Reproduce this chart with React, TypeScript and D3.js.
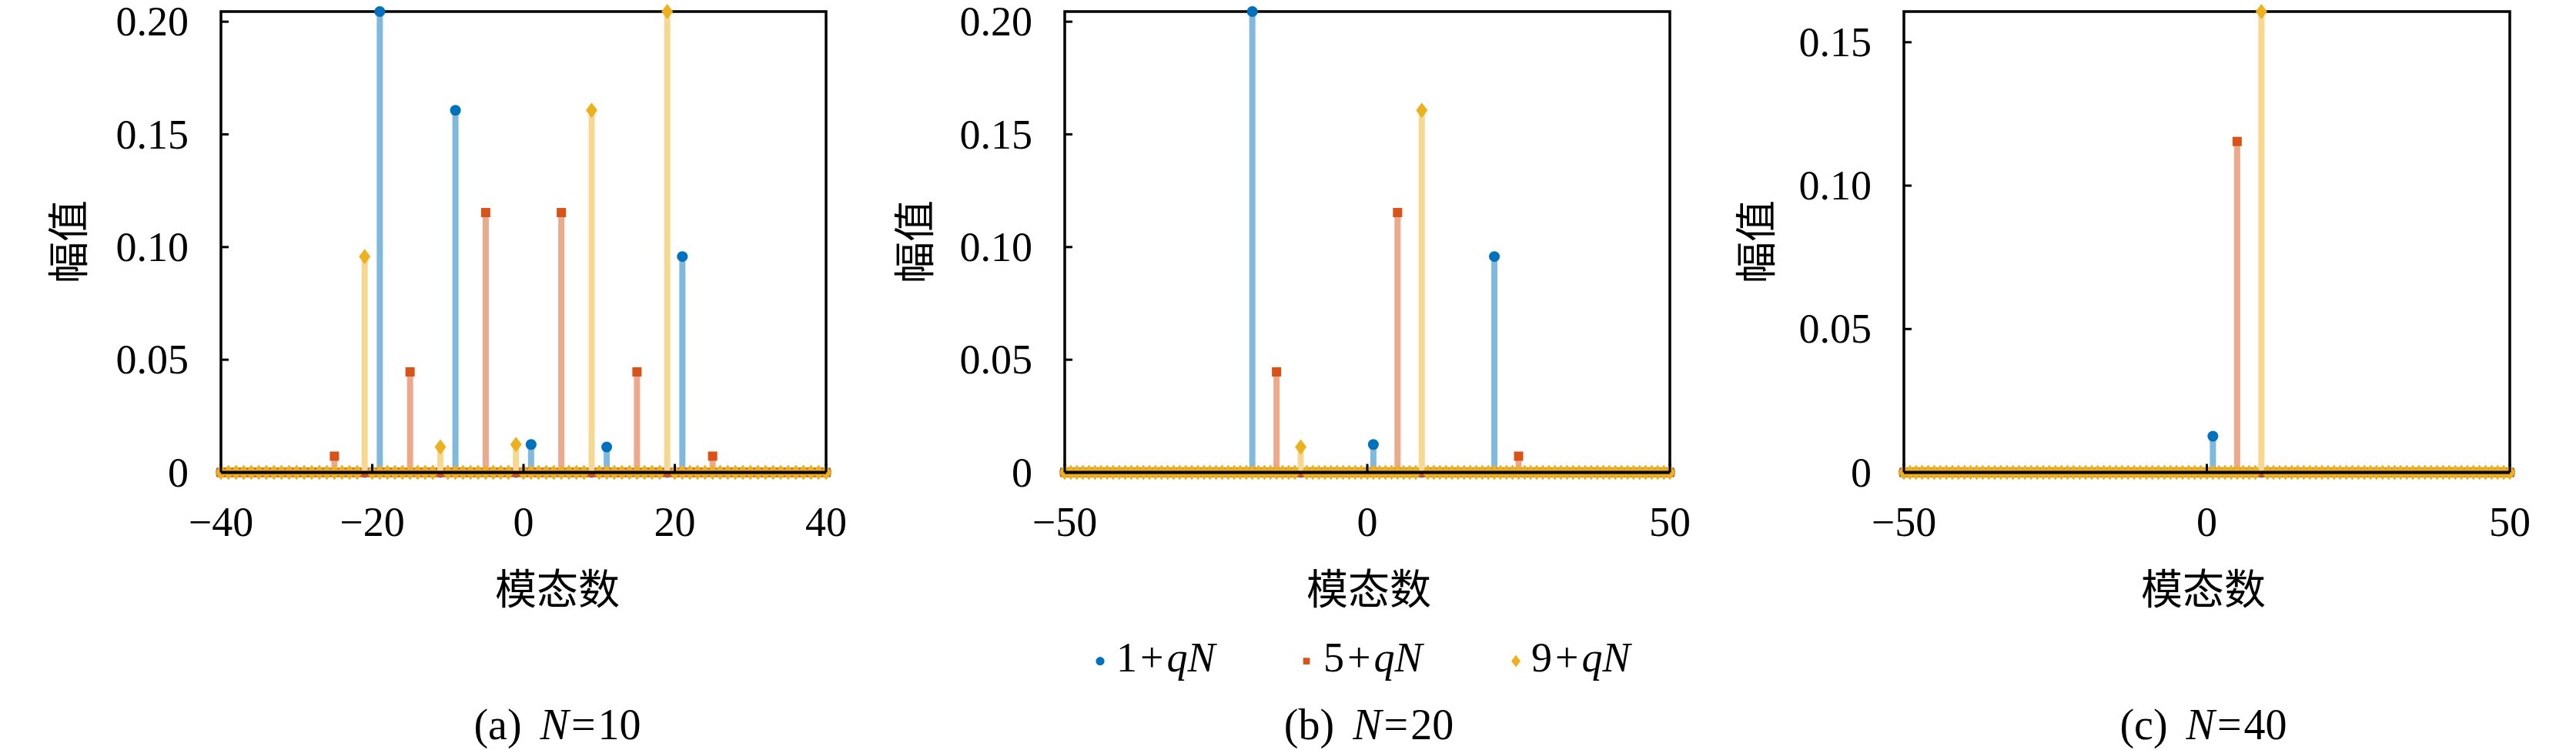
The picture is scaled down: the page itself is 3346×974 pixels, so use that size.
import React from 'react';
import * as d3 from 'd3';

const FONT = "'Liberation Serif', 'Times New Roman', serif";
const CJK = "'Noto Sans CJK SC', 'Noto Sans CJK JP', sans-serif";

// ---------- data ----------
const seriesOffsets = ['1', '5', '9'];
const seriesColors = ['#0072BD', '#D95319', '#EDB120'];
const seriesShapes = ['circle', 'square', 'diamond'];

const panelLetters = ['a', 'b', 'c'];
const panelN = ['10', '20', '40'];

const xDomainA = [-40, 40];
const xDomainB = [-50, 50];
const xDomainC = [-50, 50];
const xTicksA = [-40, -20, 0, 20, 40];
const xTicksB = [-50, 0, 50];
const xTicksC = [-50, 0, 50];
const yTicksA = [0, 0.05, 0.1, 0.15, 0.2];
const yTicksB = [0, 0.05, 0.1, 0.15, 0.2];
const yTicksC = [0, 0.05, 0.1, 0.15];

// N = 10
const modesA1 = [-19, -9, 1, 11, 21];
const valuesA1 = [0.2045, 0.1607, 0.0124, 0.0113, 0.0958];
const modesA2 = [-25, -15, -5, 5, 15, 25];
const valuesA2 = [0.0072, 0.0446, 0.1153, 0.1153, 0.0446, 0.0072];
const modesA3 = [-21, -11, -1, 9, 19];
const valuesA3 = [0.0958, 0.0113, 0.0124, 0.1607, 0.2045];

// N = 20
const modesB1 = [-19, 1, 21];
const valuesB1 = [0.2045, 0.0124, 0.0958];
const modesB2 = [-15, 5, 25];
const valuesB2 = [0.0446, 0.1153, 0.0072];
const modesB3 = [-11, 9];
const valuesB3 = [0.0113, 0.1607];

// N = 40
const modesC1 = [1];
const valuesC1 = [0.0126];
const modesC2 = [5];
const valuesC2 = [0.1154];
const modesC3 = [9];
const valuesC3 = [0.1607];

const xLabel = '模态数';
const yLabel = '幅值';

// ---------- layout ----------
const W = 3346;
const H = 974;
const layouts = [
  { left: 287, right: 1073, top: 15, bottom: 613.5, ylabelX: 85.5, xlabelX: 724 },
  { left: 1383, right: 2169, top: 15, bottom: 613.5, ylabelX: 1184, xlabelX: 1778 },
  { left: 2473, right: 3260, top: 15, bottom: 613.5, ylabelX: 2277, xlabelX: 2862 },
];

type Series = { modes: number[]; values: number[] };

const panels = [
  {
    xDomain: xDomainA, xTicks: xTicksA, yTicks: yTicksA,
    series: [
      { modes: modesA1, values: valuesA1 },
      { modes: modesA2, values: valuesA2 },
      { modes: modesA3, values: valuesA3 },
    ] as Series[],
  },
  {
    xDomain: xDomainB, xTicks: xTicksB, yTicks: yTicksB,
    series: [
      { modes: modesB1, values: valuesB1 },
      { modes: modesB2, values: valuesB2 },
      { modes: modesB3, values: valuesB3 },
    ] as Series[],
  },
  {
    xDomain: xDomainC, xTicks: xTicksC, yTicks: yTicksC,
    series: [
      { modes: modesC1, values: valuesC1 },
      { modes: modesC2, values: valuesC2 },
      { modes: modesC3, values: valuesC3 },
    ] as Series[],
  },
];

const FS = 54;
const serif = { fontFamily: FONT };
const cjk = { fontFamily: CJK };

function lighten(c: string) {
  const col = d3.rgb(c);
  return d3.rgb((col.r + 255) / 2, (col.g + 255) / 2, (col.b + 255) / 2).formatHex();
}

function Marker({ shape, x, y, color, scale = 1 }: { shape: string; x: number; y: number; color: string; scale?: number }) {
  if (shape === 'circle') return <circle cx={x} cy={y} r={7 * scale} fill={color} />;
  if (shape === 'square') {
    const s = 12 * scale;
    return <rect x={x - s / 2} y={y - s / 2} width={s} height={s} fill={color} />;
  }
  const hw = 7.5 * scale;
  const hh = 10 * scale;
  return <path d={`M${x},${y - hh}L${x + hw},${y}L${x},${y + hh}L${x - hw},${y}Z`} fill={color} />;
}

function Panel({ idx }: { idx: number }) {
  const p = panels[idx];
  const L = layouts[idx];
  const x = d3.scaleLinear().domain(p.xDomain).range([L.left, L.right]);
  const ymax = d3.max(p.series.flatMap((s) => s.values)) as number;
  const y = d3.scaleLinear().domain([0, ymax]).range([L.bottom, L.top]);
  const allModes = d3.range(p.xDomain[0], p.xDomain[1] + 1);
  const fmt = (v: number) => (v === 0 ? '0' : d3.format('.2f')(v));
  const xfmt = (v: number) => (v < 0 ? '\u2212' + Math.abs(v) : String(v));

  return (
    <g>
      <rect x={L.left} y={L.top} width={L.right - L.left} height={L.bottom - L.top} fill="none" stroke="#000" strokeWidth={3.5} />
      {p.yTicks.map((t) => (
        <g key={'yt' + t}>
          <line x1={L.left} x2={L.left + 10} y1={y(t)} y2={y(t)} stroke="#000" strokeWidth={3} />
          <text x={L.left - 42} y={y(t) + 18} textAnchor="end" style={serif} fontSize={FS}>{fmt(t)}</text>
        </g>
      ))}
      {p.series.map((s, si) => {
        const color = seriesColors[si];
        const stemColor = lighten(color);
        const zeros = allModes.filter((m) => !s.modes.includes(m));
        return (
          <g key={'s' + si}>
            {s.modes.map((m, i) => (
              <line key={'st' + m} x1={x(m)} x2={x(m)} y1={y(0)} y2={y(s.values[i])} stroke={stemColor} strokeWidth={8} />
            ))}
            {s.modes.map((m, i) => (
              <Marker key={'mk' + m} shape={seriesShapes[si]} x={x(m)} y={y(s.values[i])} color={color} />
            ))}
            {zeros.map((m) => (
              <Marker key={'z' + m} shape={seriesShapes[si]} x={x(m)} y={y(0)} color={color} />
            ))}
          </g>
        );
      })}
      <line x1={L.left} x2={L.right} y1={y(0)} y2={y(0)} stroke="#000" strokeWidth={4} />
      {p.xTicks.map((t) => (
        <g key={'xt' + t}>
          <line x1={x(t)} x2={x(t)} y1={L.bottom} y2={L.bottom - 11} stroke="#000" strokeWidth={3} />
          <text x={x(t)} y={696} textAnchor="middle" style={serif} fontSize={FS}>{xfmt(t)}</text>
        </g>
      ))}
      <text x={L.xlabelX} y={761} textAnchor="middle" dominantBaseline="central" style={cjk} fontSize={54}>{xLabel}</text>
      <text
        transform={`translate(${L.ylabelX},314) rotate(-90)`}
        textAnchor="middle"
        dominantBaseline="central"
        style={cjk}
        fontSize={54}
      >
        {yLabel}
      </text>
      <text x={L.xlabelX} y={960} textAnchor="middle" style={serif} fontSize={FS + 2}>
        ({panelLetters[idx]})
        <tspan dx={24} fontStyle="italic">N</tspan>
        <tspan dx={3}>=</tspan>
        <tspan dx={3}>{panelN[idx]}</tspan>
      </text>
    </g>
  );
}

const legendMarkerX = [1429, 1697, 1969];
const legendTextX = [1450, 1719, 1989];

export default function App() {
  return (
    <svg width={W} height={H} style={{ position: 'absolute', left: 0, top: 0, background: '#fff' }} xmlns="http://www.w3.org/2000/svg">
      <rect x={0} y={0} width={W} height={H} fill="#fff" />
      {panels.map((_, i) => (
        <Panel key={i} idx={i} />
      ))}
      {seriesOffsets.map((o, i) => (
        <g key={'lg' + i}>
          <Marker shape={seriesShapes[i]} x={legendMarkerX[i]} y={858.6} color={seriesColors[i]} scale={seriesShapes[i] === 'square' ? 0.72 : 0.8} />
          <text x={legendTextX[i]} y={872} style={serif} fontSize={FS}>
            {o}
            <tspan dx={4}>+</tspan>
            <tspan dx={4} fontStyle="italic">qN</tspan>
          </text>
        </g>
      ))}
    </svg>
  );
}
